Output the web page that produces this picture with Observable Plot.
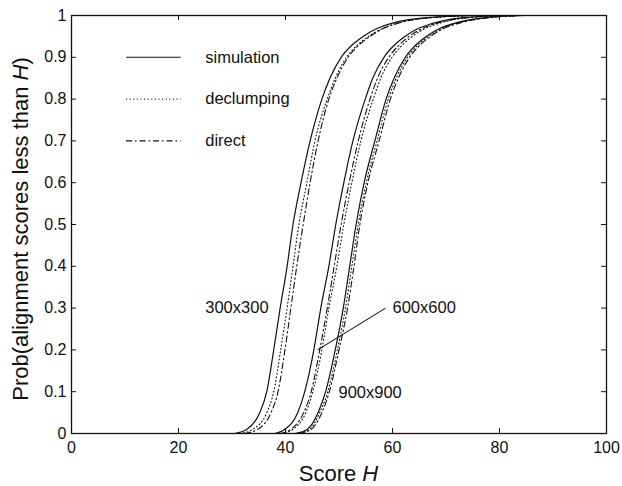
<!DOCTYPE html>
<html>
<head>
<meta charset="utf-8">
<script src="https://cdn.jsdelivr.net/npm/d3@7"></script>
<script src="https://cdn.jsdelivr.net/npm/@observablehq/plot@0.6"></script>
<style>
  html, body { margin: 0; padding: 0; background: white; }
  #chart { width: 622px; height: 486px; }
</style>
</head>
<body>
<div id="chart"></div>
<script>
// ---- data ----
const probLevels = [0, 0.01, 0.05, 0.1, 0.2, 0.3, 0.4, 0.5, 0.6, 0.7, 0.8, 0.85, 0.9, 0.93, 0.95, 0.97, 0.98, 0.99, 0.995, 1];

const sim300    = [30.5, 32.8, 35.2, 36.5, 37.8, 39.0, 40.3, 41.4, 42.9, 44.6, 46.8, 48.3, 50.4, 52.5, 54.5, 57.3, 59.5, 63.0, 66.5, 74.5];
const decl300   = [31.5, 33.9, 36.5, 37.8, 39.1, 40.3, 41.4, 42.5, 44.0, 45.5, 47.8, 49.3, 51.4, 53.5, 55.5, 58.3, 60.5, 64.0, 67.5, 75.5];
const direct300 = [32.4, 34.8, 37.3, 38.6, 39.9, 41.0, 42.1, 43.3, 44.6, 46.1, 48.1, 49.6, 51.7, 53.8, 55.8, 58.5, 60.6, 64.0, 67.5, 75.5];

const sim600    = [38.0, 39.9, 42.3, 43.6, 45.3, 46.6, 48.1, 49.4, 50.9, 52.6, 54.9, 56.3, 58.4, 60.4, 62.3, 65.0, 67.2, 70.5, 73.5, 80.0];
const decl600   = [39.3, 41.4, 43.8, 45.1, 46.8, 48.1, 49.6, 50.9, 52.4, 54.1, 56.4, 57.8, 59.9, 61.9, 63.7, 66.3, 68.4, 71.6, 74.6, 81.0];
const direct600 = [39.0, 41.0, 43.4, 44.8, 46.4, 47.8, 49.1, 50.4, 51.9, 53.6, 55.8, 57.2, 59.3, 61.3, 63.1, 65.8, 67.9, 71.1, 74.1, 80.6];

const sim900    = [41.8, 44.1, 46.1, 47.5, 49.3, 50.8, 52.0, 53.2, 54.7, 56.7, 58.8, 60.3, 62.4, 64.4, 66.3, 69.0, 71.2, 74.6, 77.5, 84.0];
const decl900   = [42.2, 44.5, 46.4, 47.9, 49.7, 51.2, 52.4, 53.6, 55.1, 57.1, 59.2, 60.7, 62.8, 64.8, 66.7, 69.4, 71.6, 75.0, 77.9, 84.4];
const direct900 = [42.5, 44.8, 46.8, 48.2, 50.0, 51.6, 52.8, 53.9, 55.4, 57.5, 59.6, 61.1, 63.2, 65.2, 67.1, 69.8, 72.0, 75.4, 78.3, 84.8];

const methods = ["simulation", "declumping", "direct"];
const sizes = ["300x300", "600x600", "900x900"];
const xTicks = [0, 20, 40, 60, 80, 100];
const yTicks = [0, 0.1, 0.2, 0.3, 0.4, 0.5, 0.6, 0.7, 0.8, 0.9, 1];

// ---- build table ----
const series = {
  "300x300": {simulation: sim300, declumping: decl300, direct: direct300},
  "600x600": {simulation: sim600, declumping: decl600, direct: direct600},
  "900x900": {simulation: sim900, declumping: decl900, direct: direct900}
};
const rows = [];
for (const size of sizes) {
  for (const method of methods) {
    series[size][method].forEach((h, i) => rows.push({H: h, P: probLevels[i], size, method}));
  }
}

// ---- styles / layout ----
const ink = "#111";
const dash = {simulation: null, declumping: "1,2.6", direct: "6,3,1.5,3"};
const legendRows = methods.map((m, i) => ({method: m, y: 0.9 - 0.1 * i, x1: 10.2, x2: 20.4, tx: 25.0}));
const sizeLabels = [
  {text: "300x300", H: 25.0, P: 0.30},
  {text: "600x600", H: 60.0, P: 0.30},
  {text: "900x900", H: 49.9, P: 0.097}
];
const pointer = [{x1: 58.7, y1: 0.30, x2: 46.0, y2: 0.20}];

const frameH = 486 - 15 - 53;
const frameW = 622 - 71 - 16;

const marks = [
  Plot.frame({stroke: ink, strokeWidth: 1.3}),
  // inward ticks on all four sides
  Plot.ruleX(xTicks, {insetTop: frameH - 5, stroke: ink}),
  Plot.ruleX(xTicks, {insetBottom: frameH - 5, stroke: ink}),
  Plot.ruleY(yTicks, {insetRight: frameW - 5, stroke: ink}),
  Plot.ruleY(yTicks, {insetLeft: frameW - 5, stroke: ink}),
  Plot.axisX({ticks: xTicks, tickSize: 0, tickPadding: 8, fontSize: 16, label: null, tickFormat: d3.format("~g")}),
  Plot.axisY({ticks: yTicks, tickSize: 0, tickPadding: 5, fontSize: 16, label: null, tickFormat: d3.format("~g")})
];
for (const m of methods) {
  marks.push(Plot.line(rows.filter(d => d.method === m), {
    x: "H", y: "P", z: "size", stroke: ink, strokeWidth: m === "simulation" ? 1.2 : 1.1,
    strokeDasharray: dash[m], curve: "monotone-x"
  }));
  const lr = legendRows.filter(d => d.method === m);
  marks.push(Plot.link(lr, {x1: "x1", x2: "x2", y1: "y", y2: "y", stroke: ink, strokeWidth: 1.1, strokeDasharray: dash[m]}));
}
marks.push(Plot.text(legendRows, {x: "tx", y: "y", text: "method", textAnchor: "start", fontSize: 16.5, fill: ink}));
marks.push(Plot.text(sizeLabels, {x: "H", y: "P", text: "text", textAnchor: "start", fontSize: 16.5, fill: ink}));
marks.push(Plot.link(pointer, {x1: "x1", y1: "y1", x2: "x2", y2: "y2", stroke: ink, strokeWidth: 1.1}));

const chart = Plot.plot({
  width: 622,
  height: 486,
  marginLeft: 71,
  marginRight: 16,
  marginTop: 15,
  marginBottom: 53,
  x: {domain: [0, 100]},
  y: {domain: [0, 1]},
  style: {fontFamily: "'Liberation Sans', Arial, Helvetica, sans-serif", fontSize: "16px", color: ink, background: "white"},
  marks
});

// axis titles with italic H
const svg = d3.select(chart);
const xt = svg.append("text")
  .attr("x", 71 + frameW / 2).attr("y", 481)
  .attr("text-anchor", "middle").attr("font-size", 22).attr("fill", ink)
  .attr("font-family", "'Liberation Sans', Arial, sans-serif");
xt.append("tspan").text("Score ");
xt.append("tspan").attr("font-style", "italic").text("H");

const yt = svg.append("text")
  .attr("transform", `translate(28, ${15 + frameH / 2 + 5}) rotate(-90)`)
  .attr("text-anchor", "middle").attr("font-size", 22).attr("fill", ink)
  .attr("font-family", "'Liberation Sans', Arial, sans-serif");
yt.append("tspan").text("Prob(alignment scores less than ");
yt.append("tspan").attr("font-style", "italic").text("H");
yt.append("tspan").text(")");

document.getElementById("chart").appendChild(chart);
</script>
</body>
</html>
